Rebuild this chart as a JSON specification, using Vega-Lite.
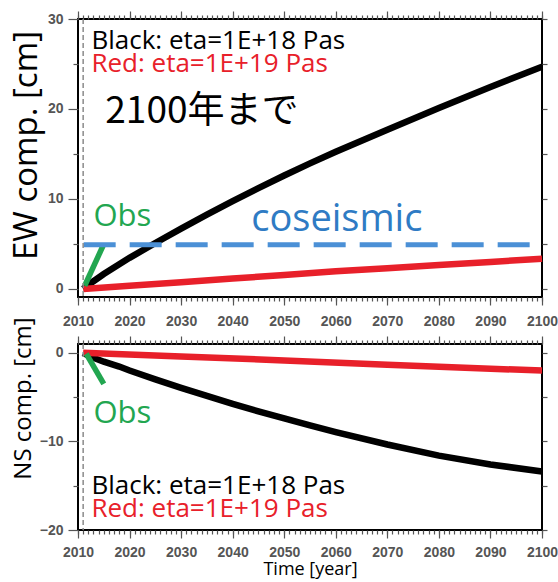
{
  "$schema": "https://vega.github.io/schema/vega-lite/v6.json",
  "background": "white",
  "padding": {"left": 9, "top": 9, "right": 5, "bottom": 0},
  "spacing": 47,
  "bounds": "flush",
  "config": {
    "view": {"stroke": "black", "strokeWidth": 2},
    "axis": {
      "grid": false,
      "domain": false,
      "labelColor": "#555555",
      "labelFont": "Liberation Sans",
      "labelFontWeight": "bold",
      "labelFontSize": 14,
      "tickColor": "#555555",
      "tickWidth": 1.2,
      "titleFont": "Open Sans",
      "titleFontWeight": "normal",
      "titleColor": "black"
    }
  },
  "datasets": {
    "ew_model": [
      {"series": "eta=1E+18", "year": 2011, "value": 0},
      {"series": "eta=1E+18", "year": 2012, "value": 0.45},
      {"series": "eta=1E+18", "year": 2013, "value": 0.85},
      {"series": "eta=1E+18", "year": 2015, "value": 1.65},
      {"series": "eta=1E+18", "year": 2020, "value": 3.45},
      {"series": "eta=1E+18", "year": 2025, "value": 5.1},
      {"series": "eta=1E+18", "year": 2030, "value": 6.7},
      {"series": "eta=1E+18", "year": 2035, "value": 8.25},
      {"series": "eta=1E+18", "year": 2040, "value": 9.75},
      {"series": "eta=1E+18", "year": 2045, "value": 11.2},
      {"series": "eta=1E+18", "year": 2050, "value": 12.6},
      {"series": "eta=1E+18", "year": 2055, "value": 13.95},
      {"series": "eta=1E+18", "year": 2060, "value": 15.25},
      {"series": "eta=1E+18", "year": 2070, "value": 17.7},
      {"series": "eta=1E+18", "year": 2080, "value": 20.1},
      {"series": "eta=1E+18", "year": 2090, "value": 22.45},
      {"series": "eta=1E+18", "year": 2100, "value": 24.7},
      {"series": "eta=1E+19", "year": 2011, "value": 0},
      {"series": "eta=1E+19", "year": 2020, "value": 0.35},
      {"series": "eta=1E+19", "year": 2030, "value": 0.75},
      {"series": "eta=1E+19", "year": 2040, "value": 1.15},
      {"series": "eta=1E+19", "year": 2050, "value": 1.55},
      {"series": "eta=1E+19", "year": 2060, "value": 1.95},
      {"series": "eta=1E+19", "year": 2070, "value": 2.3},
      {"series": "eta=1E+19", "year": 2080, "value": 2.65},
      {"series": "eta=1E+19", "year": 2090, "value": 3.0},
      {"series": "eta=1E+19", "year": 2100, "value": 3.35}
    ],
    "ns_model": [
      {"series": "eta=1E+18", "year": 2011, "value": 0},
      {"series": "eta=1E+18", "year": 2012, "value": -0.3},
      {"series": "eta=1E+18", "year": 2013, "value": -0.55},
      {"series": "eta=1E+18", "year": 2015, "value": -1.0},
      {"series": "eta=1E+18", "year": 2018, "value": -1.55},
      {"series": "eta=1E+18", "year": 2020, "value": -2.0},
      {"series": "eta=1E+18", "year": 2025, "value": -3.0},
      {"series": "eta=1E+18", "year": 2030, "value": -3.95},
      {"series": "eta=1E+18", "year": 2035, "value": -4.85},
      {"series": "eta=1E+18", "year": 2040, "value": -5.75},
      {"series": "eta=1E+18", "year": 2045, "value": -6.6},
      {"series": "eta=1E+18", "year": 2050, "value": -7.4},
      {"series": "eta=1E+18", "year": 2055, "value": -8.2},
      {"series": "eta=1E+18", "year": 2060, "value": -8.95},
      {"series": "eta=1E+18", "year": 2070, "value": -10.35},
      {"series": "eta=1E+18", "year": 2080, "value": -11.6},
      {"series": "eta=1E+18", "year": 2090, "value": -12.6},
      {"series": "eta=1E+18", "year": 2100, "value": -13.4},
      {"series": "eta=1E+19", "year": 2011, "value": 0},
      {"series": "eta=1E+19", "year": 2030, "value": -0.4},
      {"series": "eta=1E+19", "year": 2050, "value": -0.85},
      {"series": "eta=1E+19", "year": 2070, "value": -1.35},
      {"series": "eta=1E+19", "year": 2100, "value": -2.0}
    ],
    "ew_obs": [
      {"series": "Obs", "year": 2011.3, "value": 0.35},
      {"series": "Obs", "year": 2014.9, "value": 4.85}
    ],
    "ns_obs": [
      {"series": "Obs", "year": 2011.6, "value": -0.1},
      {"series": "Obs", "year": 2015.0, "value": -3.5}
    ],
    "coseismic": [
      {"series": "coseismic", "year": 2011.1, "value": 4.9},
      {"series": "coseismic", "year": 2098.2, "value": 4.9}
    ],
    "event": [{"year": 2011.0}],
    "ew_legend": [
      {"series": "eta=1E+18", "label": "Black: eta=1E+18 Pas", "year": 2012.6, "value": 27.5},
      {"series": "eta=1E+19", "label": "Red: eta=1E+19 Pas", "year": 2012.6, "value": 25.0}
    ],
    "ns_legend": [
      {"series": "eta=1E+18", "label": "Black: eta=1E+18 Pas", "year": 2012.6, "value": -15.0},
      {"series": "eta=1E+19", "label": "Red: eta=1E+19 Pas", "year": 2012.6, "value": -17.6}
    ],
    "ew_obs_label": [{"series": "Obs", "label": "Obs", "year": 2013.0, "value": 8.0}],
    "ns_obs_label": [{"series": "Obs", "label": "Obs", "year": 2013.0, "value": -6.9}],
    "coseismic_label": [{"series": "coseismic", "label": "coseismic", "year": 2043.6, "value": 7.7}],
    "period_label": [{"series": "eta=1E+18", "label": "2100年まで", "year": 2015.3, "value": 19.7}]
  },
  "vconcat": [
    {
      "width": 464,
      "height": 278,
      "layer": [
        {
          "data": {"name": "ew_model"},
          "mark": {"type": "line", "strokeWidth": 6.5, "strokeCap": "butt"},
          "encoding": {
            "x": {"field": "year", "type": "quantitative", "scale": {"domain": [2010, 2100], "nice": false, "zero": false},
              "axis": {"orient": "bottom", "values": [2010,2011,2012,2013,2014,2015,2016,2017,2018,2019,2020,2021,2022,2023,2024,2025,2026,2027,2028,2029,2030,2031,2032,2033,2034,2035,2036,2037,2038,2039,2040,2041,2042,2043,2044,2045,2046,2047,2048,2049,2050,2051,2052,2053,2054,2055,2056,2057,2058,2059,2060,2061,2062,2063,2064,2065,2066,2067,2068,2069,2070,2071,2072,2073,2074,2075,2076,2077,2078,2079,2080,2081,2082,2083,2084,2085,2086,2087,2088,2089,2090,2091,2092,2093,2094,2095,2096,2097,2098,2099,2100],
                "labelExpr": "datum.value % 10 === 0 ? '' + datum.value : ''", "labelOverlap": false, "labelFlush": false, "tickSize": 4, "labelPadding": 13, "title": null}},
            "y": {"field": "value", "type": "quantitative", "scale": {"domain": [-0.9, 30], "nice": false, "zero": false},
              "axis": {"orient": "left", "values": [0, 10, 20, 30], "tickSize": 10, "labelPadding": 5, "title": "EW comp. [cm]", "titleFontSize": 33, "titleY": 126}},
            "color": {"field": "series", "type": "nominal", "scale": {"domain": ["eta=1E+18", "eta=1E+19", "Obs", "coseismic"], "range": ["#000000", "#e8202a", "#22a650", "#2f7bc4"]}, "legend": null}
          }
        },
        {
          "data": {"name": "ew_obs"},
          "mark": {"type": "line", "strokeWidth": 5.5, "strokeCap": "butt"},
          "encoding": {
            "x": {"field": "year", "type": "quantitative", "axis": {"orient": "bottom", "values": [2010,2020,2030,2040,2050,2060,2070,2080,2090,2100], "tickSize": 8, "labels": false, "title": null}},
            "y": {"field": "value", "type": "quantitative", "axis": {"orient": "left", "values": [5, 15, 25], "tickSize": 5, "labels": false, "title": null}},
            "color": {"field": "series", "type": "nominal", "legend": null}
          }
        },
        {
          "data": {"name": "coseismic"},
          "mark": {"type": "line", "strokeWidth": 5, "strokeDash": [32, 14], "color": "#4b90d6"},
          "encoding": {
            "x": {"field": "year", "type": "quantitative", "axis": {"orient": "top", "values": [2010,2011,2012,2013,2014,2015,2016,2017,2018,2019,2020,2021,2022,2023,2024,2025,2026,2027,2028,2029,2030,2031,2032,2033,2034,2035,2036,2037,2038,2039,2040,2041,2042,2043,2044,2045,2046,2047,2048,2049,2050,2051,2052,2053,2054,2055,2056,2057,2058,2059,2060,2061,2062,2063,2064,2065,2066,2067,2068,2069,2070,2071,2072,2073,2074,2075,2076,2077,2078,2079,2080,2081,2082,2083,2084,2085,2086,2087,2088,2089,2090,2091,2092,2093,2094,2095,2096,2097,2098,2099,2100], "tickSize": 4, "labels": false, "title": null}},
            "y": {"field": "value", "type": "quantitative", "axis": {"orient": "right", "values": [0, 5, 10, 15, 20, 25, 30], "tickSize": 5, "labels": false, "title": null}}
          }
        },
        {
          "data": {"name": "event"},
          "mark": {"type": "rule", "color": "#8a8a8a", "strokeWidth": 1.5, "strokeDash": [5, 3]},
          "encoding": {
            "x": {"field": "year", "type": "quantitative", "axis": {"orient": "top", "values": [2010,2020,2030,2040,2050,2060,2070,2080,2090,2100], "tickSize": 8, "labels": false, "title": null}}
          }
        },
        {
          "data": {"name": "ew_legend"},
          "mark": {"type": "text", "align": "left", "baseline": "middle", "font": "Open Sans", "fontSize": 26},
          "encoding": {
            "x": {"field": "year", "type": "quantitative", "axis": null},
            "y": {"field": "value", "type": "quantitative", "axis": null},
            "text": {"field": "label"},
            "color": {"field": "series", "type": "nominal", "legend": null}
          }
        },
        {
          "data": {"name": "period_label"},
          "mark": {"type": "text", "align": "left", "baseline": "middle", "font": "Noto Sans CJK JP", "fontSize": 37, "color": "black"},
          "encoding": {
            "x": {"field": "year", "type": "quantitative", "axis": null},
            "y": {"field": "value", "type": "quantitative", "axis": null},
            "text": {"field": "label"}
          }
        },
        {
          "data": {"name": "ew_obs_label"},
          "mark": {"type": "text", "align": "left", "baseline": "middle", "font": "Open Sans", "fontSize": 31},
          "encoding": {
            "x": {"field": "year", "type": "quantitative", "axis": null},
            "y": {"field": "value", "type": "quantitative", "axis": null},
            "text": {"field": "label"},
            "color": {"field": "series", "type": "nominal", "legend": null}
          }
        },
        {
          "data": {"name": "coseismic_label"},
          "mark": {"type": "text", "align": "left", "baseline": "middle", "font": "Open Sans", "fontSize": 38},
          "encoding": {
            "x": {"field": "year", "type": "quantitative", "axis": null},
            "y": {"field": "value", "type": "quantitative", "axis": null},
            "text": {"field": "label"},
            "color": {"field": "series", "type": "nominal", "legend": null}
          }
        }
      ],
      "resolve": {"axis": {"x": "independent", "y": "independent"}}
    },
    {
      "width": 464,
      "height": 186,
      "layer": [
        {
          "data": {"name": "ns_model"},
          "mark": {"type": "line", "strokeWidth": 6.5, "strokeCap": "butt"},
          "encoding": {
            "x": {"field": "year", "type": "quantitative", "scale": {"domain": [2010, 2100], "nice": false, "zero": false},
              "axis": {"orient": "bottom", "values": [2010,2011,2012,2013,2014,2015,2016,2017,2018,2019,2020,2021,2022,2023,2024,2025,2026,2027,2028,2029,2030,2031,2032,2033,2034,2035,2036,2037,2038,2039,2040,2041,2042,2043,2044,2045,2046,2047,2048,2049,2050,2051,2052,2053,2054,2055,2056,2057,2058,2059,2060,2061,2062,2063,2064,2065,2066,2067,2068,2069,2070,2071,2072,2073,2074,2075,2076,2077,2078,2079,2080,2081,2082,2083,2084,2085,2086,2087,2088,2089,2090,2091,2092,2093,2094,2095,2096,2097,2098,2099,2100],
                "labelExpr": "datum.value % 10 === 0 ? '' + datum.value : ''", "labelOverlap": false, "labelFlush": false, "tickSize": 4, "labelPadding": 11, "title": "Time [year]", "titleFontSize": 18, "titlePadding": 1}},
            "y": {"field": "value", "type": "quantitative", "scale": {"domain": [-20, 1], "nice": false, "zero": false},
              "axis": {"orient": "left", "values": [0, -10, -20], "tickSize": 10, "labelPadding": 5, "title": "NS comp. [cm]", "titleFontSize": 24, "titleY": 54}},
            "color": {"field": "series", "type": "nominal", "scale": {"domain": ["eta=1E+18", "eta=1E+19", "Obs", "coseismic"], "range": ["#000000", "#e8202a", "#22a650", "#2f7bc4"]}, "legend": null}
          }
        },
        {
          "data": {"name": "ns_obs"},
          "mark": {"type": "line", "strokeWidth": 5.5, "strokeCap": "butt"},
          "encoding": {
            "x": {"field": "year", "type": "quantitative", "axis": {"orient": "bottom", "values": [2010,2020,2030,2040,2050,2060,2070,2080,2090,2100], "tickSize": 8, "labels": false, "title": null}},
            "y": {"field": "value", "type": "quantitative", "axis": {"orient": "left", "values": [-5, -15], "tickSize": 5, "labels": false, "title": null}},
            "color": {"field": "series", "type": "nominal", "legend": null}
          }
        },
        {
          "data": {"name": "event"},
          "mark": {"type": "rule", "color": "#8a8a8a", "strokeWidth": 1.5, "strokeDash": [5, 3]},
          "encoding": {
            "x": {"field": "year", "type": "quantitative", "axis": {"orient": "top", "values": [2010,2011,2012,2013,2014,2015,2016,2017,2018,2019,2020,2021,2022,2023,2024,2025,2026,2027,2028,2029,2030,2031,2032,2033,2034,2035,2036,2037,2038,2039,2040,2041,2042,2043,2044,2045,2046,2047,2048,2049,2050,2051,2052,2053,2054,2055,2056,2057,2058,2059,2060,2061,2062,2063,2064,2065,2066,2067,2068,2069,2070,2071,2072,2073,2074,2075,2076,2077,2078,2079,2080,2081,2082,2083,2084,2085,2086,2087,2088,2089,2090,2091,2092,2093,2094,2095,2096,2097,2098,2099,2100], "tickSize": 4, "labels": false, "title": null}}
          }
        },
        {
          "data": {"name": "ns_obs_label"},
          "mark": {"type": "text", "align": "left", "baseline": "middle", "font": "Open Sans", "fontSize": 31},
          "encoding": {
            "x": {"field": "year", "type": "quantitative", "axis": {"orient": "top", "values": [2010,2020,2030,2040,2050,2060,2070,2080,2090,2100], "tickSize": 8, "labels": false, "title": null}},
            "y": {"field": "value", "type": "quantitative", "axis": {"orient": "right", "values": [0, -5, -10, -15, -20], "tickSize": 5, "labels": false, "title": null}},
            "text": {"field": "label"},
            "color": {"field": "series", "type": "nominal", "legend": null}
          }
        },
        {
          "data": {"name": "ns_legend"},
          "mark": {"type": "text", "align": "left", "baseline": "middle", "font": "Open Sans", "fontSize": 26},
          "encoding": {
            "x": {"field": "year", "type": "quantitative", "axis": null},
            "y": {"field": "value", "type": "quantitative", "axis": null},
            "text": {"field": "label"},
            "color": {"field": "series", "type": "nominal", "legend": null}
          }
        }
      ],
      "resolve": {"axis": {"x": "independent", "y": "independent"}}
    }
  ]
}
